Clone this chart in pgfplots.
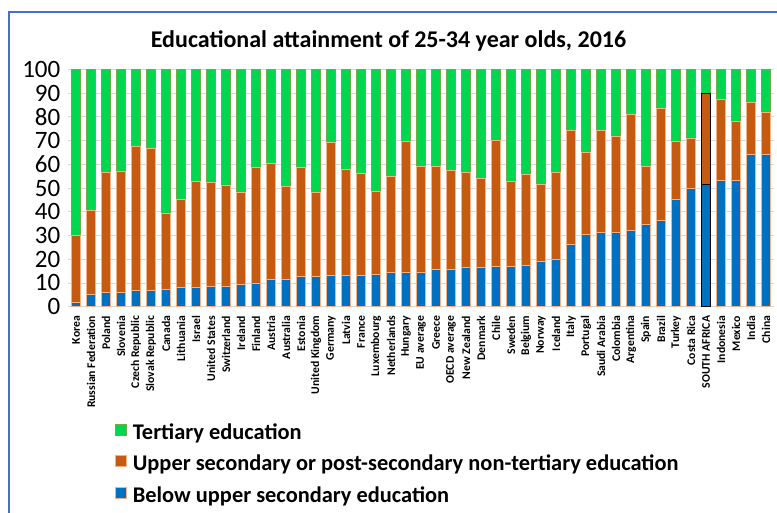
\documentclass[border=0pt]{standalone}
\usepackage{pgfplots}
\pgfplotsset{compat=1.18}
\usepackage{pgfplotstable}
\usepackage{fontspec}
\setmainfont{Carlito}
\definecolor{cgreen}{HTML}{00D64F}
\definecolor{corange}{HTML}{C55A11}
\definecolor{cblue}{HTML}{0070C0}
\definecolor{cframe}{HTML}{4472C4}
\definecolor{cgrid}{HTML}{D9D9D9}
\definecolor{cedgeo}{HTML}{F4B183}
\definecolor{cedgeg}{HTML}{70AD47}

\pgfplotstableread{
x below upper tertiary
0 1.7 28.3 70.0
1 5.2 35.2 59.6
2 6.0 50.6 43.4
3 6.0 51.2 42.8
4 6.7 60.7 32.6
5 6.7 59.9 33.4
6 7.2 32.3 60.5
7 8.0 37.1 54.9
8 8.1 44.6 47.3
9 8.6 43.6 47.8
10 8.6 42.7 48.7
11 9.4 38.6 52.0
12 10.0 48.8 41.2
13 11.4 49.0 39.6
14 11.4 39.4 49.2
15 12.8 46.0 41.2
16 12.8 35.4 51.8
17 13.2 56.0 30.8
18 13.3 44.6 42.1
19 13.3 42.7 44.0
20 13.6 35.0 51.4
21 14.3 40.6 45.1
22 14.7 54.8 30.5
23 14.7 44.4 40.9
24 15.7 43.4 40.9
25 15.7 41.7 42.6
26 16.6 40.0 43.4
27 16.7 37.4 45.9
28 17.0 52.9 30.1
29 17.0 35.7 47.3
30 17.3 38.5 44.2
31 19.0 32.5 48.5
32 20.1 36.5 43.4
33 26.4 48.0 25.6
34 30.5 34.5 35.0
35 31.2 43.0 25.8
36 31.2 40.6 28.2
37 32.2 48.8 19.0
38 34.7 24.4 40.9
39 36.5 46.9 16.6
40 45.2 24.3 30.5
41 49.9 21.2 28.9
42 51.3 38.3 10.4
43 53.2 34.2 12.6
44 53.2 25.0 21.8
45 64.2 21.8 14.0
46 64.2 17.7 18.1
}\datatable

\pgfplotstableread{
x below upper
42 51.3 38.3
}\satable

\begin{document}
\begin{tikzpicture}[x=1pt,y=1pt]
\useasboundingbox (0,0) rectangle (777,512);
\draw[cframe, line width=2pt] (9,-10) -- (9,500) -- (800,500);
\node[font=\fontsize{24}{28}\selectfont\bfseries, anchor=base] at (388.5,464) {Educational attainment of 25-34 year olds, 2016};
\begin{axis}[
  at={(68.5pt,205.3pt)}, anchor=south west,
  scale only axis, width=705pt, height=237.4pt,
  xmin=-0.5, xmax=46.5, ymin=0, ymax=100,
  ybar stacked, bar width=9pt,
  axis line style={draw=none}, major tick length=0pt,
  ymajorgrids, grid style={cgrid, line width=0.8pt},
  ytick={0,10,...,100},
  xtick={0,...,46},
  xticklabels={Korea,Russian Federation,Poland,Slovenia,Czech Republic,Slovak Republic,Canada,Lithuania,Israel,United States,Switzerland,Ireland,Finland,Austria,Australia,Estonia,United Kingdom,Germany,Latvia,France,Luxembourg,Netherlands,Hungary,EU average,Greece,OECD average,New Zealand,Denmark,Chile,Sweden,Belgium,Norway,Iceland,Italy,Portugal,Saudi Arabia,Colombia,Argentina,Spain,Brazil,Turkey,Costa Rica,SOUTH AFRICA,Indonesia,Mexico,India,China},
  xticklabel style={rotate=90, anchor=east, inner sep=0pt, font=\fontsize{11.7}{12}\selectfont\bfseries},
  xticklabel shift=9pt,
  yticklabel style={font=\fontsize{25}{27}\selectfont, inner sep=0pt},
  yticklabel shift=8pt,
  /pgf/number format/assume math mode=true,
  legend cell align=left,
  reverse legend,
  legend style={draw=none, fill=none, at={(0.066,-0.494)}, anchor=north west,
    font=\fontsize{22.4}{24}\selectfont\bfseries, inner sep=0pt, row sep=12pt, column sep=6pt,
    nodes={inner sep=0pt, text height=14pt, text depth=4pt}},
  legend image code/.code={\draw[#1] (0pt,-1pt) rectangle (11pt,10pt);},
]
\addplot[fill=cblue, draw=cedgeo, line width=0.6pt] table[x=x,y=below]{\datatable};
\addlegendentry{Below upper secondary education}
\addplot[fill=corange, draw=cedgeo, line width=0.6pt] table[x=x,y=upper]{\datatable};
\addlegendentry{Upper secondary or post-secondary non-tertiary education}
\addplot[fill=cgreen, draw=cedgeg, line width=0.6pt] table[x=x,y=tertiary]{\datatable};
\addlegendentry{Tertiary education}
\end{axis}
\begin{axis}[
  at={(68.5pt,205.3pt)}, anchor=south west,
  scale only axis, width=705pt, height=237.4pt,
  xmin=-0.5, xmax=46.5, ymin=0, ymax=100,
  ybar stacked, bar width=9pt, hide axis,
]
\addplot[fill=cblue, draw=black, line width=1pt] table[x=x,y=below]{\satable};
\addplot[fill=corange, draw=black, line width=1pt] table[x=x,y=upper]{\satable};
\end{axis}
\end{tikzpicture}
\end{document}
